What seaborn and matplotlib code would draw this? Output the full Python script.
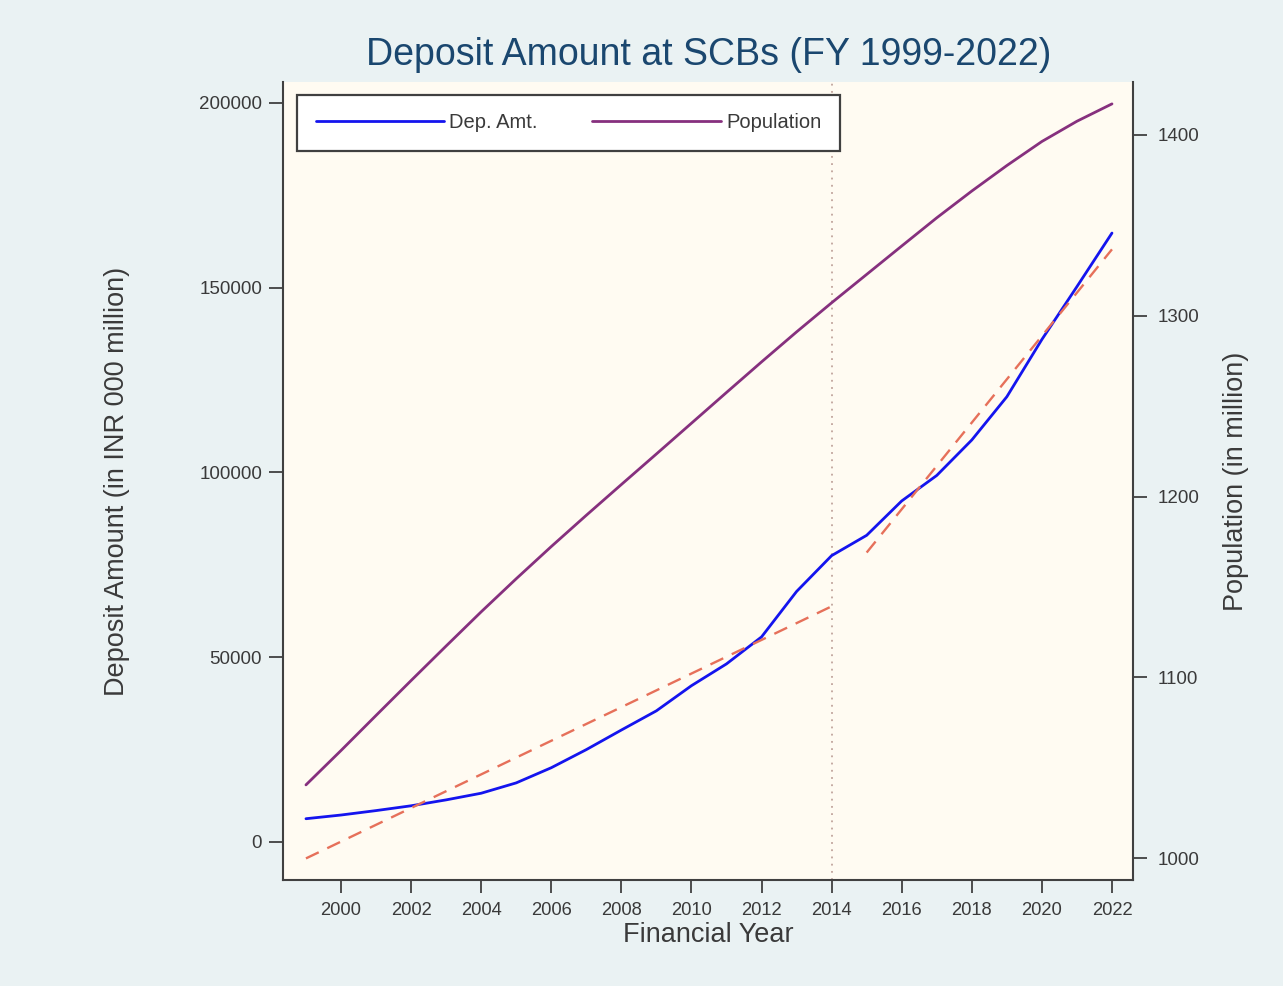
import matplotlib
matplotlib.use("Agg")
import matplotlib.pyplot as plt
import pandas as pd
import seaborn as sns
from matplotlib.lines import Line2D

# Financial years and series
years = list(range(1999, 2023))
deposits = [6300, 7300, 8500, 9800, 11400, 13200, 16000, 20100, 25000, 30300,
            35500, 42300, 48200, 55500, 67800, 77500, 83000, 92300, 99200,
            108800, 120500, 136000, 150300, 164800]
population = [1040.6, 1059.6, 1079.0, 1098.3, 1117.4, 1136.3, 1154.6, 1172.4,
              1189.7, 1206.7, 1223.6, 1240.6, 1257.6, 1274.5, 1291.1, 1307.2,
              1322.9, 1338.6, 1354.2, 1369.0, 1383.1, 1396.4, 1407.6, 1417.2]
break_year = 2014

x_ticks = list(range(2000, 2023, 2))
dep_ticks = [0, 50000, 100000, 150000, 200000]
pop_ticks = [1000, 1100, 1200, 1300, 1400]
series_labels = ["Dep. Amt.", "Population"]

df = pd.DataFrame({"year": years, "deposit": deposits, "population": population})

sns.set_theme(style="ticks")
plt.rcParams["font.family"] = ["Liberation Sans", "DejaVu Sans"]

BLUE = "#1414EE"
PURPLE = "#86307E"
FIT = "#E6705A"
INK = "#3A3A3A"
SPINE = "#404040"

fig = plt.figure(figsize=(12.83, 9.86), dpi=100, facecolor="#EAF2F3")
ax = fig.add_axes([283 / 1283, 106 / 986, 850 / 1283, 798 / 986])
ax.set_facecolor("#FFFBF2")

# deposits and piecewise linear fits around the break year
sns.lineplot(data=df, x="year", y="deposit", ax=ax, color=BLUE, lw=2.0, legend=False)
fit_kws = dict(color=FIT, lw=1.7, ls=(0, (6.0, 4.0)))
sns.regplot(data=df[df.year <= break_year], x="year", y="deposit", ax=ax,
            ci=None, scatter=False, truncate=True, line_kws=fit_kws)
sns.regplot(data=df[df.year > break_year], x="year", y="deposit", ax=ax,
            ci=None, scatter=False, truncate=True, line_kws=fit_kws)
ax.axvline(break_year, color="#C0A49C", lw=1.3, ls=(0, (1, 3)), zorder=1)

# population on the secondary axis
ax2 = ax.twinx()
sns.lineplot(data=df, x="year", y="population", ax=ax2, color=PURPLE, lw=2.0, legend=False)

ax.set_xlim(1998.345, 2022.6)
ax.set_ylim(-10284, 205680)
ax2.set_ylim(988, 1429.3)

ax.set_xticks(x_ticks)
ax.set_xticklabels([str(v) for v in x_ticks])
ax.set_yticks(dep_ticks)
ax.set_yticklabels([str(v) for v in dep_ticks])
ax2.set_yticks(pop_ticks)
ax2.set_yticklabels([str(v) for v in pop_ticks])

for a in (ax, ax2):
    a.spines["top"].set_visible(False)
    for s in a.spines.values():
        s.set_color(SPINE)
        s.set_linewidth(1.5)
ax.spines["right"].set_visible(False)
ax2.spines["left"].set_visible(False)
ax2.spines["bottom"].set_visible(False)

ax.tick_params(axis="x", direction="out", length=9, width=1.3, color=SPINE,
               labelcolor=INK, labelsize=13.2, pad=7)
ax.tick_params(axis="y", direction="out", length=10, width=1.3, color=SPINE,
               labelcolor=INK, labelsize=13.5, pad=5)
ax2.tick_params(axis="y", direction="out", length=10, width=1.3, color=SPINE,
                labelcolor=INK, labelsize=13.5, pad=8)

ax.grid(False)
ax2.grid(False)

ax.set_xlabel("Financial Year", fontsize=19.5, color=INK)
ax.xaxis.label.set_verticalalignment("center")
ax.xaxis.set_label_coords(0.5, (880 - 935) / 798)
ax.set_ylabel("Deposit Amount (in INR 000 million)", fontsize=19.5, color=INK)
ax.yaxis.label.set_verticalalignment("center")
ax.yaxis.set_label_coords((117 - 283) / 850, 0.5)
ax2.set_ylabel("Population (in million)", fontsize=19.5, color=INK)
ax2.yaxis.label.set_verticalalignment("center")
ax2.yaxis.set_label_coords((1236 - 283) / 850, 0.5)

fig.text(709 / 1283, 1 - 55 / 986, "Deposit Amount at SCBs (FY 1999-2022)",
         ha="center", va="center", fontsize=27, color="#1A476F")

handles = [Line2D([], [], color=BLUE, lw=2.0, label=series_labels[0]),
           Line2D([], [], color=PURPLE, lw=2.0, label=series_labels[1])]
leg = ax2.legend(handles=handles, loc="upper left", bbox_to_anchor=(0.0165, 0.984),
                 ncol=2, frameon=True, fancybox=False, edgecolor=SPINE,
                 facecolor="white", framealpha=1, fontsize=14.5,
                 handlelength=6.4, handletextpad=0.25, columnspacing=2.7,
                 borderpad=0.92, borderaxespad=0)
leg.get_frame().set_linewidth(1.6)
for t in leg.get_texts():
    t.set_color(INK)

fig.savefig("out.png", dpi=100, facecolor=fig.get_facecolor())
